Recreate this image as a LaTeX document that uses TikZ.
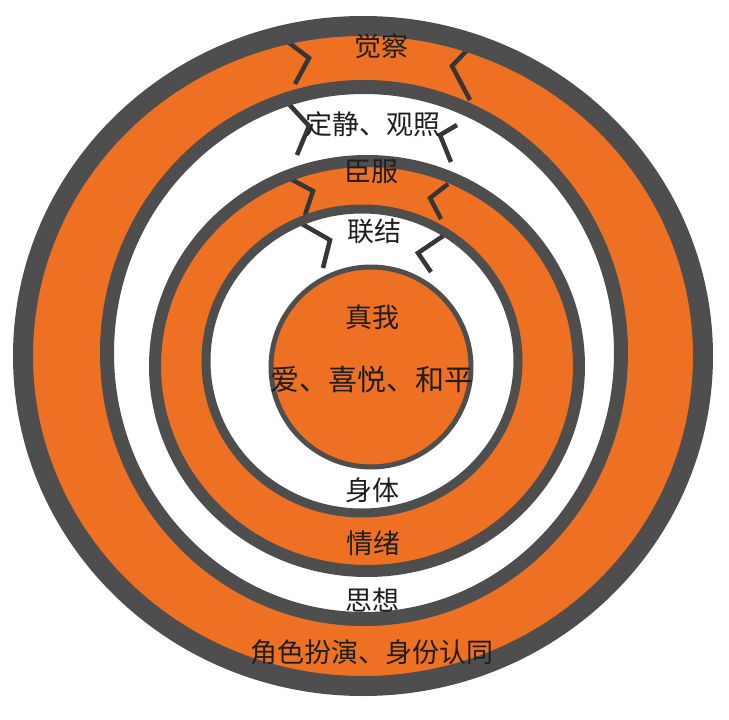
\documentclass[tikz,border=0pt]{standalone}
\usepackage{fontspec}
\newfontfamily\cjk{Noto Sans CJK SC}
\definecolor{ringorange}{HTML}{EE7022}
\definecolor{ringgray}{HTML}{4E4E4E}
\definecolor{zigcol}{HTML}{363636}
\definecolor{txt}{HTML}{1E1E1E}
\tikzset{
  band/.style={draw=ringgray},
  zig/.style={draw=zigcol, line width=4.5pt, line join=miter, line cap=butt},
  lbl/.style={font=\cjk\fontsize{27}{29}\selectfont, text=txt, inner sep=0pt},
  biglbl/.style={font=\cjk\fontsize{29}{31}\selectfont, text=txt, inner sep=0pt}
}
\begin{document}
\begin{tikzpicture}[x=1pt,y=-1pt]
\useasboundingbox (0,0) rectangle (729,720);
\fill[white] (0,0) rectangle (729,720);
% fills
\fill[ringorange] (363,356) ellipse [x radius=340, y radius=330];
\fill[white] (364,353) ellipse [x radius=257, y radius=266];
\fill[ringorange] (367,366) ellipse [x radius=212, y radius=205];
\fill[white] (362,361) ellipse [x radius=156, y radius=152];
\fill[ringorange] (371,367) circle [radius=100];
% zigzags
\draw[zig] (288,42) -- (309,58) -- (295,84);
\draw[zig] (474,43) -- (452,66) -- (470,100);
\draw[zig] (287,102) -- (309,126) -- (297,155);
\draw[zig] (457,125) -- (440,135) -- (451,162);
\draw[zig] (287,177) -- (313,191) -- (305,215);
\draw[zig] (448,184) -- (430,198) -- (441,219);
\draw[zig] (302,224) -- (330,240) -- (323,268);
\draw[zig] (446,234) -- (418,253) -- (431,272);
% gray rings
\draw[band, line width=20pt] (363,356) ellipse [x radius=340, y radius=330];
\draw[band, line width=14pt] (364,353) ellipse [x radius=257, y radius=266];
\draw[band, line width=12pt] (367,366) ellipse [x radius=212, y radius=205];
\draw[band, line width=9pt] (362,361) ellipse [x radius=156, y radius=152];
\draw[band, line width=5pt] (371,367) circle [radius=100];
% labels
\node[lbl] (juecha) at (381,46) {觉察};
\node[lbl] (dingjing) at (373,124) {定静、观照};
\node[lbl] (chenfu) at (371,172) {臣服};
\node[lbl] (lianjie) at (374,231) {联结};
\node[lbl] (zhenwo) at (372,317) {真我};
\node[biglbl] (ai) at (372,379) {爱、喜悦、和平};
\node[lbl] (shenti) at (372,490) {身体};
\node[lbl] (qingxu) at (373,543) {情绪};
\node[lbl] (sixiang) at (372,600) {思想};
\node[lbl] (juese) at (372,652) {角色扮演、身份认同};
\end{tikzpicture}
\end{document}
